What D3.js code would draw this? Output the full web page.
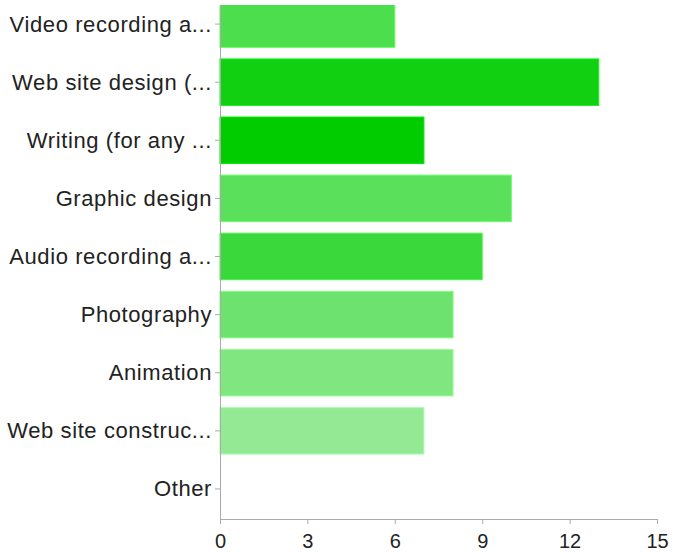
<!DOCTYPE html>
<html><head><meta charset="utf-8">
<script src="https://cdn.jsdelivr.net/npm/d3@7"></script>
<style>body{margin:0;background:#fff}svg{display:block}</style>
</head><body>
<script>
const categories = ["Video recording a...","Web site design (...","Writing (for any ...","Graphic design","Audio recording a...","Photography","Animation","Web site construc...","Other"];
const values = [6,13,7,10,9,8,8,7,0];
const colors = ["#4cde4c","#11d011","#00cc00","#5ae05a","#3ad83a","#6ee26e","#80e680","#94ea94","#cccccc"];
const xTicks = [0,3,6,9,12,15];

const W=673,H=552;
const svg=d3.select("body").append("svg").attr("width",W).attr("height",H);
const x=d3.scaleLinear().domain([0,15]).range([220,657]);
const y=d3.scaleBand().domain(categories).range([-5,518]).paddingInner(0.2).paddingOuter(0.1);
svg.append("defs").append("clipPath").attr("id","c").append("rect").attr("x",0).attr("y",5).attr("width",W).attr("height",514);
const g=svg.append("g").attr("clip-path","url(#c)");
g.selectAll("rect.bar").data(values).join("rect").attr("class","bar")
 .attr("x",x(0)).attr("y",(d,i)=>y(categories[i])).attr("width",d=>x(d)-x(0)).attr("height",y.bandwidth())
 .attr("fill",(d,i)=>colors[i]).attr("stroke",(d,i)=>d3.color(colors[i]).brighter(0.4)).attr("stroke-width",d=>d>0?1:0);
const ya=g.append("g").attr("transform","translate(220,0)").call(d3.axisLeft(y).tickSize(5).tickPadding(3));
ya.select(".domain").remove();
g.append("line").attr("x1",220.5).attr("x2",220.5).attr("y1",5).attr("y2",519).attr("stroke","#aaa");
ya.selectAll(".tick line").attr("stroke","#aaa");
ya.selectAll("text").attr("font-family","Liberation Sans, Arial, sans-serif").attr("font-size",22).attr("letter-spacing","0.6px").attr("fill","#222").attr("dy","0.34em");
const xa=svg.append("g").attr("transform","translate(0,519)").call(d3.axisBottom(x).tickValues(xTicks).tickSize(5).tickPadding(10).tickSizeOuter(0));
xa.select(".domain").attr("stroke","#aaa");
xa.selectAll(".tick line").attr("stroke","#aaa");
xa.selectAll("text").attr("font-family","Liberation Sans, Arial, sans-serif").attr("font-size",20).attr("fill","#222");
</script>
</body></html>
